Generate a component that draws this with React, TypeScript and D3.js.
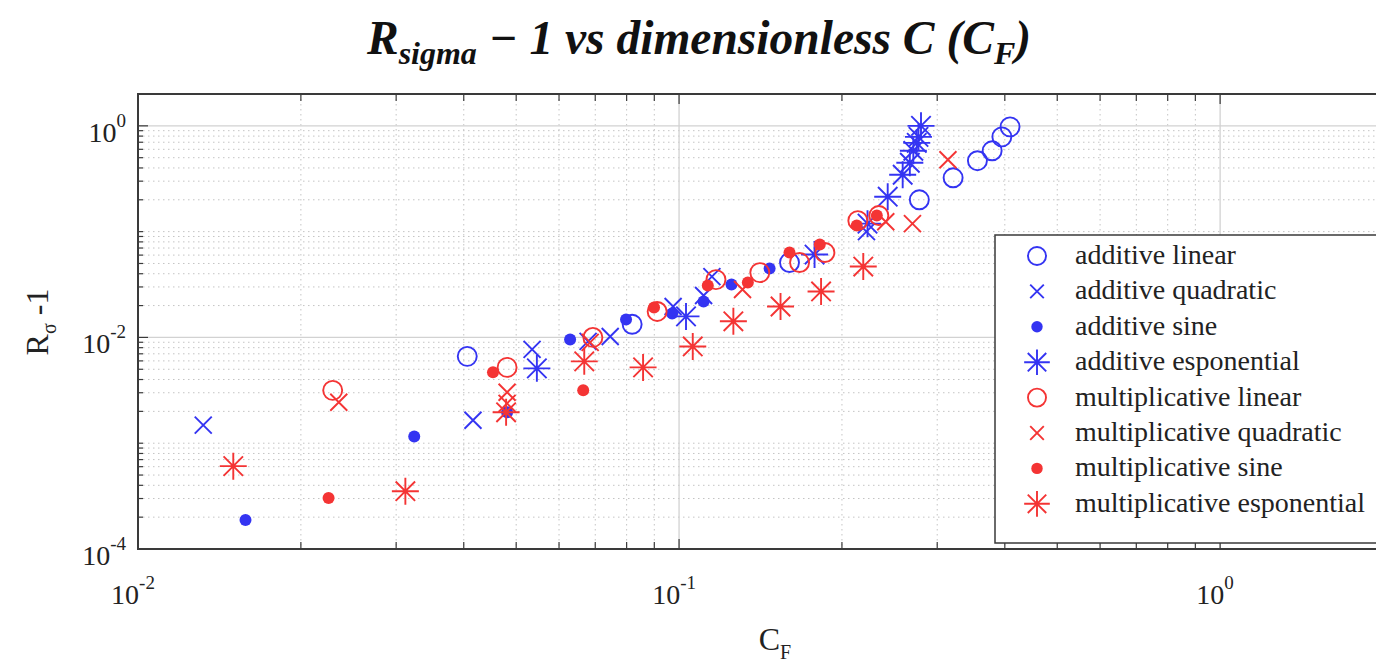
import React, { useEffect, useRef } from 'react';
import * as d3 from 'd3';

// [C_F, R_sigma - 1]
const additiveLinear = [
  [0.0406, 0.00662], [0.0819, 0.0133], [0.160, 0.0510], [0.278, 0.200], [0.321, 0.323],
  [0.356, 0.468], [0.379, 0.581], [0.395, 0.787], [0.409, 0.978],
];
const additiveQuadratic = [
  [0.0132, 0.00148], [0.0416, 0.00165], [0.0535, 0.0077], [0.0679, 0.00917], [0.0746, 0.0102],
  [0.0975, 0.0196], [0.111, 0.0249], [0.115, 0.0376], [0.222, 0.100],
];
const additiveSine = [
  [0.0158, 0.000188], [0.0324, 0.00116], [0.0481, 0.00196], [0.0629, 0.00958], [0.0798, 0.0148],
  [0.0971, 0.0168], [0.111, 0.0219], [0.125, 0.0316], [0.147, 0.0448],
];
const additiveEsponential = [
  [0.0546, 0.0051], [0.103, 0.0158], [0.178, 0.0607], [0.223, 0.119], [0.243, 0.214],
  [0.259, 0.345], [0.267, 0.448], [0.271, 0.581], [0.275, 0.691], [0.277, 0.787], [0.280, 1.0],
];
const multiplicativeLinear = [
  [0.0229, 0.00316], [0.0481, 0.00521], [0.0693, 0.0100], [0.0911, 0.0176], [0.117, 0.0352],
  [0.141, 0.0410], [0.167, 0.0510], [0.186, 0.0634], [0.214, 0.127], [0.234, 0.142],
];
const multiplicativeQuadratic = [
  [0.0235, 0.00244], [0.0481, 0.00303], [0.0481, 0.00238], [0.0685, 0.00897], [0.131, 0.0284],
  [0.241, 0.124], [0.270, 0.119], [0.314, 0.478],
];
const multiplicativeSine = [
  [0.0225, 0.000303], [0.0453, 0.00468], [0.0665, 0.00316], [0.0899, 0.0192], [0.113, 0.0310],
  [0.134, 0.0330], [0.160, 0.0634], [0.182, 0.0754], [0.213, 0.114], [0.232, 0.142],
];
const multiplicativeEsponential = [
  [0.0150, 0.000607], [0.0312, 0.000352], [0.0479, 0.00196], [0.0668, 0.00594], [0.0858, 0.00521],
  [0.106, 0.00822], [0.126, 0.0142], [0.154, 0.0196], [0.183, 0.0272], [0.219, 0.0468],
];

const legendLabels = [
  'additive linear', 'additive quadratic', 'additive sine', 'additive esponential',
  'multiplicative linear', 'multiplicative quadratic', 'multiplicative sine', 'multiplicative esponential',
];
const seriesData = [
  additiveLinear, additiveQuadratic, additiveSine, additiveEsponential,
  multiplicativeLinear, multiplicativeQuadratic, multiplicativeSine, multiplicativeEsponential,
];
const seriesMarker = ['circle', 'x', 'dot', 'star', 'circle', 'x', 'dot', 'star'];
const xTickExp = ['-2', '-1', '0'];
const yTickExp = ['0', '-2', '-4'];

const BLUE = '#3434f2';
const RED = '#f43434';

const App = () => {
  const ref = useRef(null);

  useEffect(() => {
    const svg = d3.select(ref.current);
    svg.selectAll('*').remove();

    const left = 138, right = 1383, top = 94, bottom = 549;
    const x = d3.scaleLog().domain([0.01, 2]).range([left, right]);
    const y = d3.scaleLog().domain([1e-4, 2]).range([bottom, top]);
    const font = 'Liberation Serif, Times New Roman, serif';

    svg.append('rect').attr('width', 1376).attr('height', 670).attr('fill', '#fff');

    // minor positions
    const xMinor = [];
    [-2, -1, 0].forEach(e => d3.range(2, 10).forEach(m => { const v = m * 10 ** e; if (v <= 2) xMinor.push(v); }));
    const yMinor = [];
    [-4, -3, -2, -1, 0].forEach(e => d3.range(2, 10).forEach(m => { const v = m * 10 ** e; if (v < 2) yMinor.push(v); }));
    const yMid = [1e-3, 1e-1];

    const grid = svg.append('g');
    grid.selectAll('.yminor').data([...yMinor, ...yMid]).join('line')
      .attr('x1', left).attr('x2', right).attr('y1', d => y(d)).attr('y2', d => y(d))
      .attr('stroke', '#c4c4c4').attr('stroke-width', 1).attr('stroke-dasharray', '1.5,3.5');
    grid.selectAll('.xminor').data(xMinor).join('line')
      .attr('x1', d => x(d)).attr('x2', d => x(d)).attr('y1', top).attr('y2', bottom)
      .attr('stroke', '#c4c4c4').attr('stroke-width', 1).attr('stroke-dasharray', '1.5,3.5');
    grid.selectAll('.ymajor').data([1e-2, 1]).join('line')
      .attr('x1', left).attr('x2', right).attr('y1', d => y(d)).attr('y2', d => y(d))
      .attr('stroke', '#d2d2d2').attr('stroke-width', 1.3);
    grid.selectAll('.xmajor').data([0.1, 1]).join('line')
      .attr('x1', d => x(d)).attr('x2', d => x(d)).attr('y1', top).attr('y2', bottom)
      .attr('stroke', '#d2d2d2').attr('stroke-width', 1.3);

    // ticks
    const axisColor = '#3a3a3a';
    const ticks = svg.append('g').attr('stroke', axisColor).attr('stroke-width', 1.2);
    const yTicks = [...yMinor, ...yMid].map(v => [v, 5]).concat([[1e-2, 10], [1, 10]]);
    yTicks.forEach(([v, len]) => {
      ticks.append('line').attr('x1', left).attr('x2', left + len).attr('y1', y(v)).attr('y2', y(v));
    });
    const xTicks = xMinor.map(v => [v, 7]).concat([[0.1, 10], [1, 10]]);
    xTicks.forEach(([v, len]) => {
      ticks.append('line').attr('x1', x(v)).attr('x2', x(v)).attr('y1', bottom).attr('y2', bottom - len);
      ticks.append('line').attr('x1', x(v)).attr('x2', x(v)).attr('y1', top).attr('y2', top + len);
    });

    // frame
    svg.append('path')
      .attr('d', `M${right},${top}H${left}V${bottom}H${right}`)
      .attr('fill', 'none').attr('stroke', axisColor).attr('stroke-width', 2);

    // tick labels
    const yLabels = svg.append('g').attr('font-family', font).attr('fill', '#222');
    [1, 1e-2, 1e-4].forEach((v, i) => {
      const t = yLabels.append('text').attr('x', 126).attr('y', y(v) + 16).attr('text-anchor', 'end').attr('font-size', 28);
      t.append('tspan').text('10');
      t.append('tspan').attr('font-size', 19).attr('dy', -15).text(yTickExp[i]);
    });
    const xLabels = svg.append('g').attr('font-family', font).attr('fill', '#222');
    [0.01, 0.1, 1].forEach((v, i) => {
      const t = xLabels.append('text').attr('x', x(v) - 5).attr('y', 604).attr('text-anchor', 'middle').attr('font-size', 28);
      t.append('tspan').text('10');
      t.append('tspan').attr('font-size', 19).attr('dy', -15).text(xTickExp[i]);
    });

    // axis titles
    const xt = svg.append('text').attr('x', 775).attr('y', 650).attr('text-anchor', 'middle')
      .attr('font-family', font).attr('font-size', 32).attr('fill', '#222');
    xt.append('tspan').text('C');
    xt.append('tspan').attr('font-size', 20).attr('dy', 9).text('F');

    const yt = svg.append('text').attr('transform', 'translate(48,322) rotate(-90)').attr('text-anchor', 'middle')
      .attr('font-family', font).attr('font-size', 32).attr('fill', '#222');
    yt.append('tspan').text('R');
    yt.append('tspan').attr('font-size', 20).attr('dy', 8).text('σ');
    yt.append('tspan').attr('dy', -8).text(' -1');

    // chart title
    const title = svg.append('text').attr('x', 699).attr('y', 54).attr('text-anchor', 'middle')
      .attr('font-family', 'Liberation Serif, serif').attr('font-weight', 'bold').attr('font-style', 'italic')
      .attr('font-size', 47.5).attr('fill', '#111');
    title.append('tspan').text('R');
    title.append('tspan').attr('font-size', 32).attr('dy', 10).text('sigma');
    title.append('tspan').attr('dy', -10).text(' − 1 vs dimensionless C (C');
    title.append('tspan').attr('font-size', 32).attr('dy', 10).text('F');
    title.append('tspan').attr('dy', -10).text(')');

    // marker drawing
    const drawMarker = (g, type, color, cx, cy, s) => {
      if (type === 'circle') {
        g.append('circle').attr('cx', cx).attr('cy', cy).attr('r', 9.5 * s)
          .attr('fill', 'none').attr('stroke', color).attr('stroke-width', 1.9);
      } else if (type === 'dot') {
        g.append('circle').attr('cx', cx).attr('cy', cy).attr('r', 6 * s).attr('fill', color);
      } else if (type === 'x') {
        const h = 8.5 * s;
        g.append('path').attr('d', `M${cx - h},${cy - h}L${cx + h},${cy + h}M${cx - h},${cy + h}L${cx + h},${cy - h}`)
          .attr('stroke', color).attr('stroke-width', 1.9).attr('fill', 'none');
      } else {
        const r = 13.5 * s, d = r * 0.72;
        g.append('path')
          .attr('d', `M${cx - r},${cy}H${cx + r}M${cx},${cy - r}V${cy + r}M${cx - d},${cy - d}L${cx + d},${cy + d}M${cx - d},${cy + d}L${cx + d},${cy - d}`)
          .attr('stroke', color).attr('stroke-width', 1.9).attr('fill', 'none');
      }
    };

    const plot = svg.append('g');
    seriesData.forEach((data, si) => {
      const color = si < 4 ? BLUE : RED;
      data.forEach(([cf, r]) => drawMarker(plot, seriesMarker[si], color, x(cf), y(r), 1));
    });

    // legend
    const lg = svg.append('g');
    lg.append('rect').attr('x', 995).attr('y', 235).attr('width', 420).attr('height', 308)
      .attr('fill', '#fff').attr('stroke', axisColor).attr('stroke-width', 1.5);
    legendLabels.forEach((label, i) => {
      const ly = 256 + i * 35.4;
      const color = i < 4 ? BLUE : RED;
      drawMarker(lg, seriesMarker[i], color, 1037, ly, seriesMarker[i] === 'x' ? 0.8 : 0.95);
      lg.append('text').attr('x', 1075).attr('y', ly + 8).attr('font-family', font).attr('font-size', 28)
        .attr('fill', '#222').text(label);
    });
  }, []);

  return <svg ref={ref} width={1376} height={670} style={{ position: 'absolute', left: 0, top: 0 }} />;
};

export default App;
